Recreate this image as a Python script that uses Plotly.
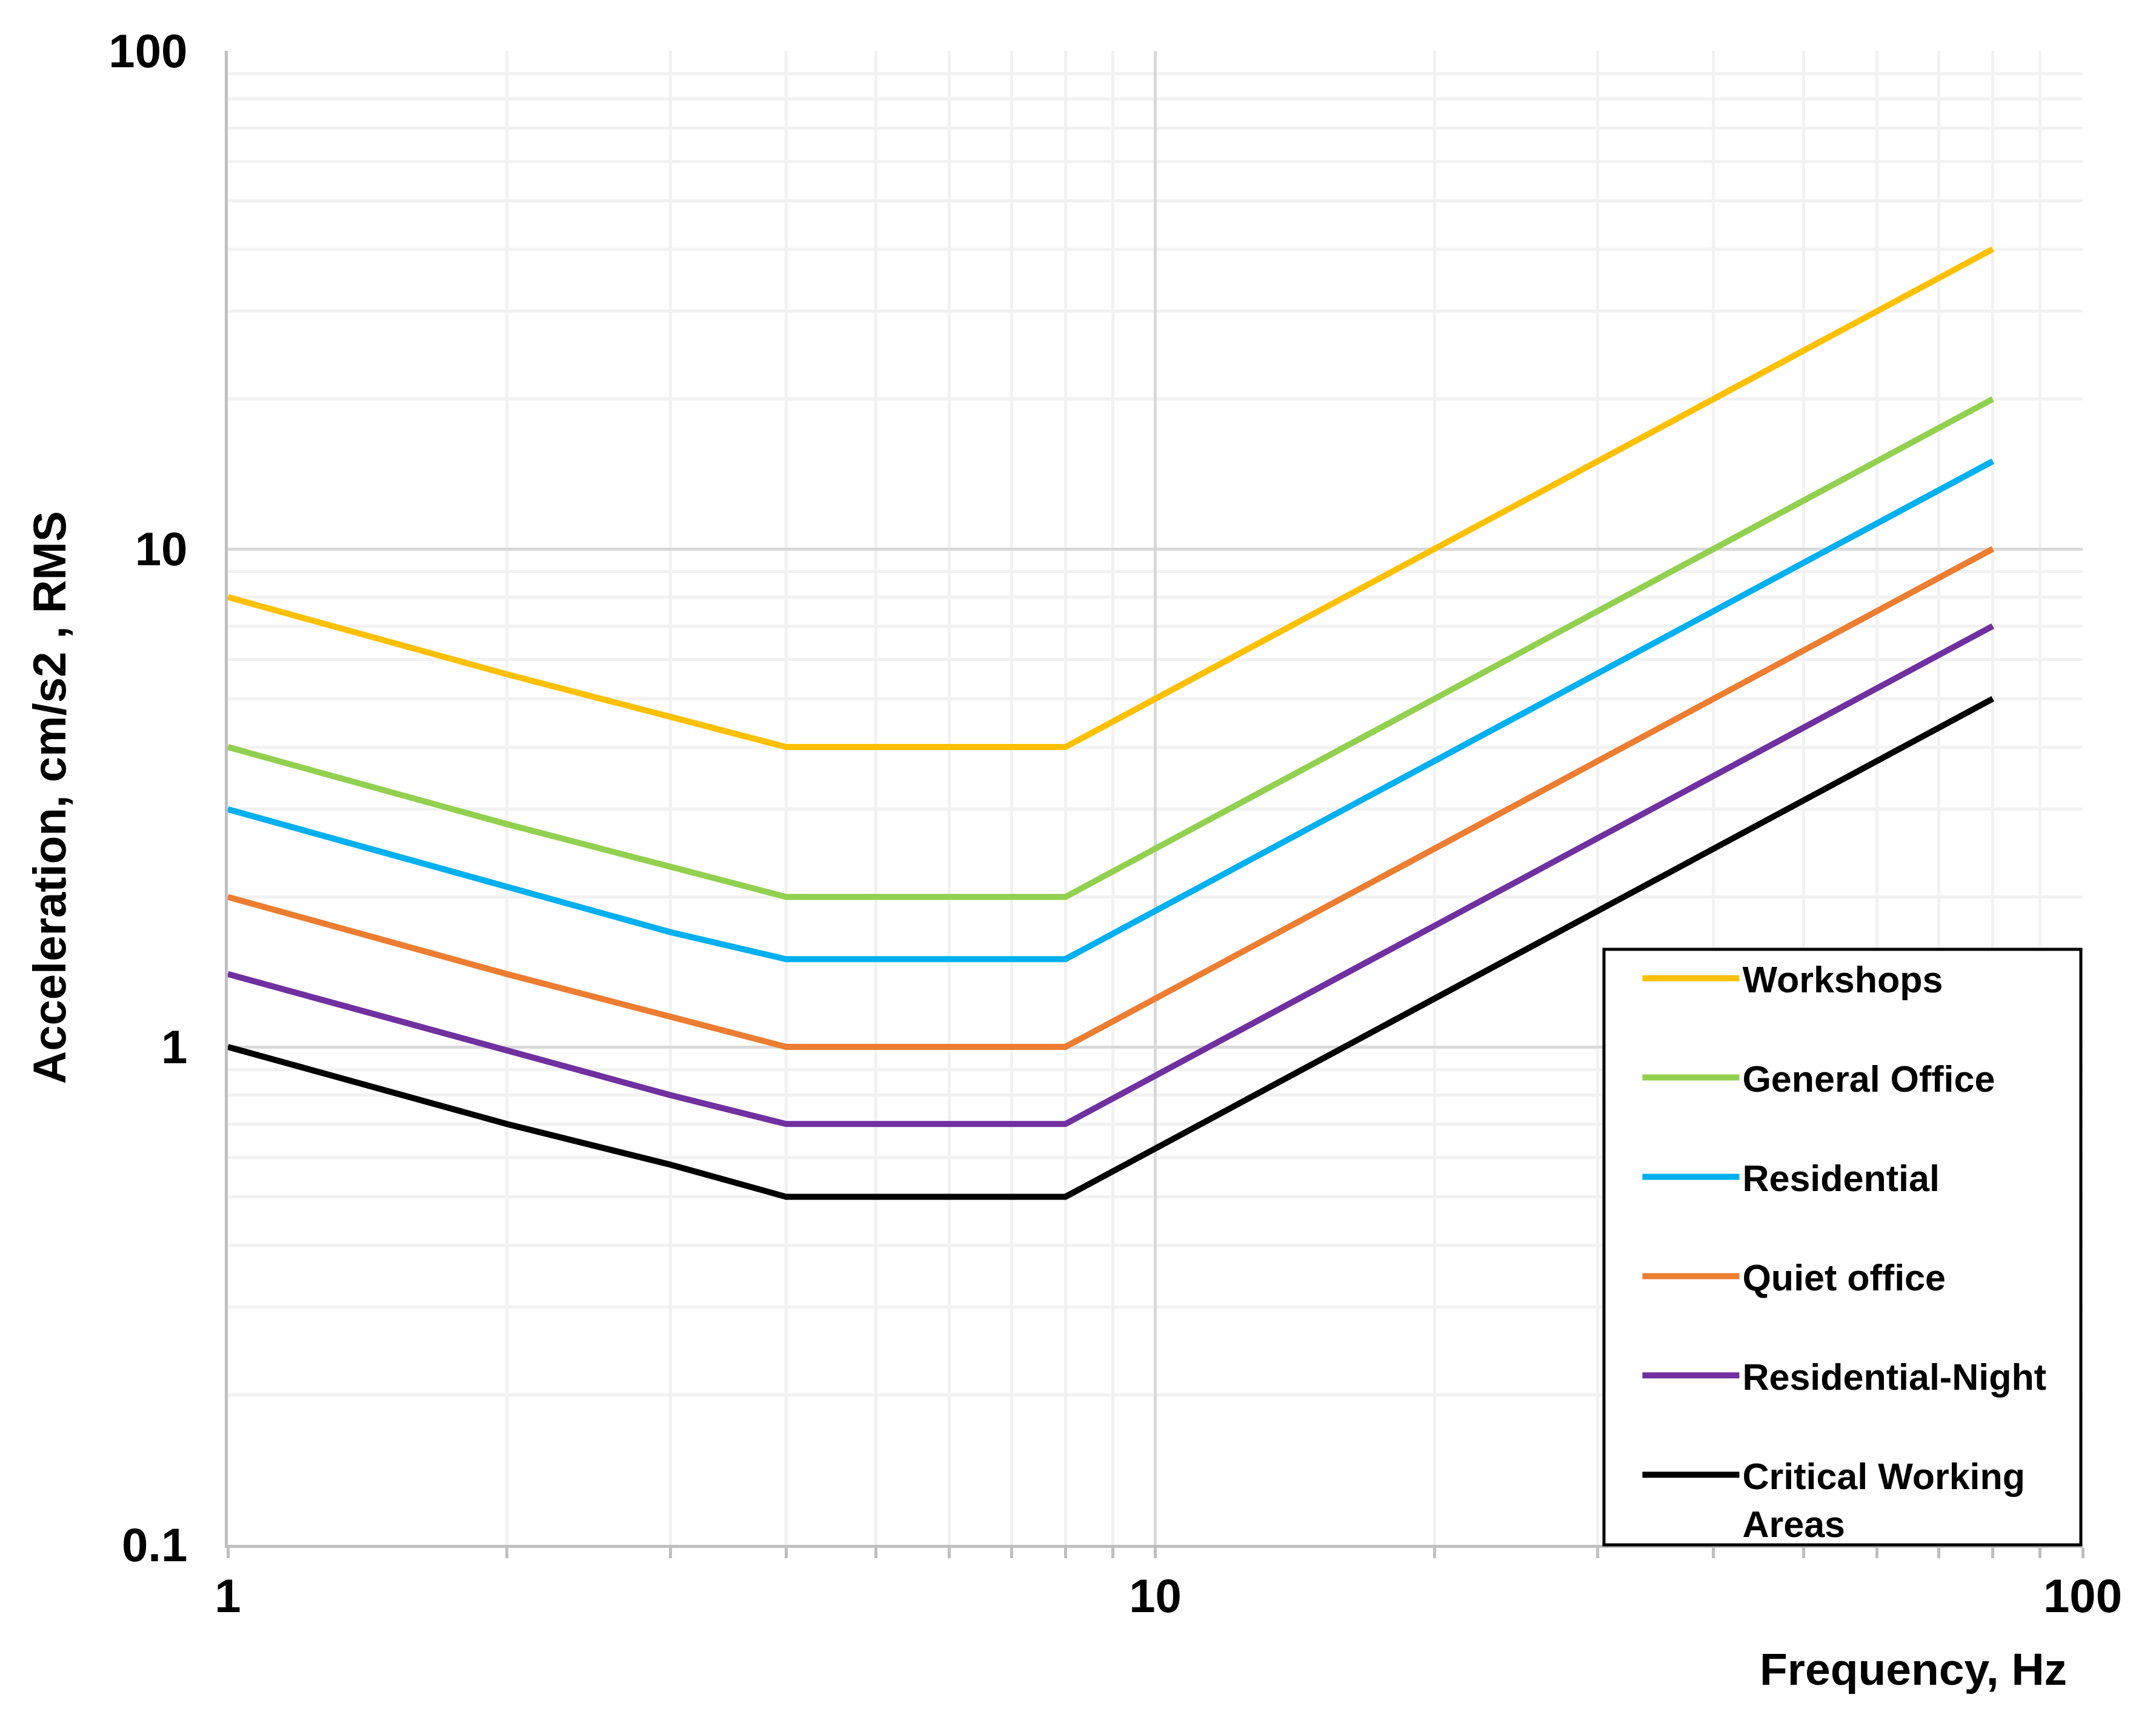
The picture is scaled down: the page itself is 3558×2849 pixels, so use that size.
import plotly.graph_objects as go

freq = [1, 2, 3, 4, 8, 80]
workshops = [8, 5.6, 4.6, 4, 4, 40]
general_office = [4, 2.8, 2.3, 2, 2, 20]
residential = [3, 2.1, 1.7, 1.5, 1.5, 15]
quiet_office = [2, 1.4, 1.15, 1, 1, 10]
residential_night = [1.4, 0.98, 0.8, 0.7, 0.7, 7]
critical = [1, 0.7, 0.58, 0.5, 0.5, 5]

names = ["Workshops", "General Office", "Residential", "Quiet office",
         "Residential-Night", "Critical Working<br>Areas"]
series = [workshops, general_office, residential, quiet_office,
          residential_night, critical]
colors = ["#FFC000", "#92D050", "#00B0F0", "#ED7D31", "#7030A0", "#000000"]

xticks = [1, 10, 100]
xticklabels = ["1", "10", "100"]
yticks = [0.1, 1, 10, 100]
yticklabels = ["0.1", "1", "10", "100"]

W, H = 3558, 2849
L, R, T, B = 376, 121, 84, 299
FONT = "Liberation Sans"

def px(xp):
    return (xp - L) / (W - L - R)

def py(yp):
    return (H - B - yp) / (H - T - B)

fig = go.Figure()
for i, (nm, ys, c) in enumerate(zip(names, series, colors)):
    fig.add_trace(go.Scatter(
        x=freq, y=ys, name=nm, mode="lines",
        line=dict(color=c, width=10),
        legendgroup=f"g{i}",
    ))

axis_common = dict(
    type="log",
    showline=True, linecolor="#BFBFBF", linewidth=5,
    showgrid=True, gridcolor="#D9D9D9", gridwidth=5,
    zeroline=False,
    tickfont=dict(family=FONT, size=78, color="black", weight="bold"),
)

fig.update_xaxes(
    **axis_common,
    range=[0, 2],
    tickvals=xticks, ticktext=xticklabels,
    ticks="outside", ticklen=17, tickwidth=5, tickcolor="#BFBFBF",
    ticklabelstandoff=-5,
    minor=dict(dtick="D1", showgrid=True, gridcolor="#F2F2F2", gridwidth=5,
               ticks="outside", ticklen=17, tickwidth=5, tickcolor="#BFBFBF"),
)
fig.update_yaxes(
    **axis_common,
    range=[-1, 2],
    tickvals=yticks, ticktext=yticklabels,
    ticks="",
    ticklabelstandoff=46,
    minor=dict(dtick="D1", showgrid=True, gridcolor="#F2F2F2", gridwidth=5),
)

fig.update_layout(
    width=W, height=H,
    margin=dict(l=L, r=R, t=T, b=B),
    plot_bgcolor="white", paper_bgcolor="white",
    font=dict(family=FONT, color="black"),
    legend=dict(
        x=0.761, y=0.398, xanchor="left", yanchor="top",
        bgcolor="rgba(0,0,0,0)", borderwidth=0,
        font=dict(family=FONT, size=61, color="black", weight="bold"),
        traceorder="grouped", tracegroupgap=81.6,
        itemwidth=160, valign="top",
    ),
    shapes=[
        dict(type="rect", xref="paper", yref="paper",
             x0=px(2647), x1=px(3434), y0=0.0, y1=py(1567),
             line=dict(color="black", width=5), fillcolor="white",
             layer="above"),
    ],
    annotations=[
        dict(text="Frequency, Hz", xref="paper", yref="paper",
             x=0.992, y=-0.0830, xanchor="right", yanchor="middle",
             showarrow=False,
             font=dict(family=FONT, size=75, color="black", weight="bold")),
        dict(text="Acceleration, cm/s2 , RMS", xref="paper", yref="paper",
             x=-0.0965, y=0.5, xanchor="center", yanchor="middle",
             textangle=-90, showarrow=False,
             font=dict(family=FONT, size=76, color="black", weight="bold")),
    ],
)

fig.write_html("out.html", config={"displayModeBar": False},
               post_script="document.body.style.margin='0';document.body.style.overflow='hidden';")
